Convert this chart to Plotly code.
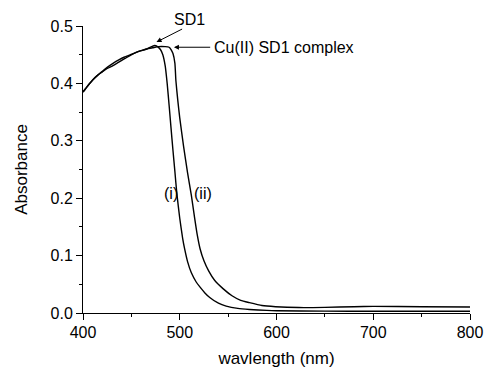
import plotly.graph_objects as go

# Curve (i): SD1
wl_sd1 = [400, 405, 410, 415, 420, 425, 431, 437, 443, 449, 455, 460, 466, 471, 474, 477, 480,
          482.5, 485, 487, 489, 491, 493, 495, 497, 500, 503, 505, 508, 512, 517,
          521, 526, 531, 540, 548, 560, 572, 590, 600, 650, 700, 750, 800]
abs_sd1 = [0.385, 0.396, 0.406, 0.414, 0.421, 0.428, 0.435, 0.441, 0.446, 0.450, 0.454, 0.457,
           0.460, 0.464, 0.466, 0.464, 0.459, 0.450, 0.430, 0.400, 0.362, 0.322, 0.283, 0.246,
           0.208, 0.165, 0.130, 0.112, 0.090, 0.070, 0.054, 0.045, 0.035, 0.027, 0.017,
           0.012, 0.008, 0.0062, 0.0045, 0.004, 0.0032, 0.003, 0.003, 0.003]

# Curve (ii): Cu(II) SD1 complex
wl_cu = [400, 405, 410, 415, 420, 425, 431, 437, 443, 449, 455, 460, 466, 472, 478, 485, 489,
         491, 493, 495, 496, 498, 500, 504, 508, 512, 515, 518, 521, 525, 530, 536,
         545, 554, 563, 572, 585, 599, 623, 650, 680, 700, 750, 800]
abs_cu = [0.385, 0.396, 0.406, 0.414, 0.420, 0.426, 0.431, 0.437, 0.443, 0.449, 0.454, 0.457,
          0.460, 0.462, 0.464, 0.464, 0.463, 0.459, 0.452, 0.435, 0.405, 0.370, 0.340, 0.290,
          0.245, 0.205, 0.170, 0.137, 0.112, 0.091, 0.073, 0.057, 0.042, 0.030, 0.022,
          0.018, 0.013, 0.011, 0.0095, 0.0098, 0.011, 0.0115, 0.011, 0.0105]

FONT = "Arial, 'Liberation Sans', sans-serif"

fig = go.Figure()
fig.add_trace(go.Scatter(x=wl_sd1, y=abs_sd1, mode="lines",
                         line=dict(color="black", width=1.4, shape="spline", smoothing=0.5),
                         showlegend=False))
fig.add_trace(go.Scatter(x=wl_cu, y=abs_cu, mode="lines",
                         line=dict(color="black", width=1.4, shape="spline", smoothing=0.5),
                         showlegend=False))

ann_font = dict(family=FONT, size=16, color="black")
annotations = [
    # SD1 arrow
    dict(x=476, y=0.472, ax=504, ay=0.496, xref="x", yref="y", axref="x", ayref="y",
         text="", showarrow=True, arrowhead=2, arrowsize=1, arrowwidth=1, arrowcolor="black"),
    dict(x=510, y=1.023, xref="x", yref="paper", text="SD1", showarrow=False,
         yanchor="middle", font=ann_font),
    # Cu arrow
    dict(x=494, y=0.463, ax=533, ay=0.463, xref="x", yref="y", axref="x", ayref="y",
         text="", showarrow=True, arrowhead=2, arrowsize=1, arrowwidth=1, arrowcolor="black"),
    dict(x=533, y=0.463, xref="x", yref="y", text="Cu(II) SD1 complex", showarrow=False,
         xanchor="left", font=ann_font),
    dict(x=490.7, y=0.208, xref="x", yref="y", text="(i)", showarrow=False, font=ann_font),
    dict(x=524, y=0.208, xref="x", yref="y", text="(ii)", showarrow=False, font=ann_font),
]

fig.update_layout(
    width=484, height=368,
    margin=dict(l=83, r=14, t=26, b=55),
    paper_bgcolor="white", plot_bgcolor="white",
    font=dict(family=FONT, size=16, color="black"),
    annotations=annotations,
    xaxis=dict(range=[400, 800], tick0=400, dtick=100, showgrid=False, zeroline=False,
               showline=True, linecolor="black", linewidth=1, ticks="outside", ticklen=6,
               tickwidth=1, tickcolor="black", ticklabelstandoff=-1, automargin=False,
               minor=dict(ticks="outside", ticklen=3, dtick=50, tickcolor="black", showgrid=False),
               title=dict(text="wavlength (nm)", font=dict(size=17), standoff=22)),
    yaxis=dict(range=[0, 0.5], tick0=0, dtick=0.1, tickformat=".1f", showgrid=False,
               zeroline=False, showline=True, linecolor="black", linewidth=1, automargin=False,
               ticks="outside", ticklen=6, tickwidth=1, tickcolor="black",
               minor=dict(ticks="outside", ticklen=3, dtick=0.05, tickcolor="black", showgrid=False),
               title=dict(text="Absorbance", font=dict(size=17), standoff=18)),
)

fig.write_html("out.html")
